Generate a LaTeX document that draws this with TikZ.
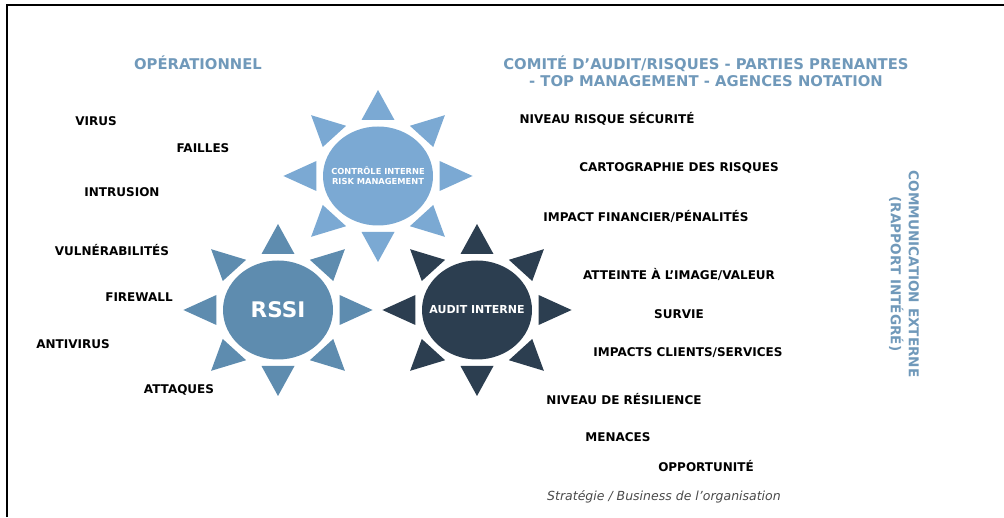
\documentclass[tikz,border=0pt]{standalone}
\usepackage{fontspec}
\setmainfont{DejaVu Sans}
\usetikzlibrary{shapes.geometric}

\definecolor{ctrlblue}{HTML}{7BA9D3}
\definecolor{rssiblue}{HTML}{5E8CAF}
\definecolor{auditblue}{HTML}{2C3E50}
\definecolor{headblue}{HTML}{7099BA}
\definecolor{notegray}{HTML}{4A4A4A}

\tikzset{
  sunball/.style={ellipse, minimum width=110pt, minimum height=99pt, inner sep=0pt},
  suntext/.style={text=white, align=center, inner sep=0pt},
  item/.style={font=\fontsize{12}{14}\selectfont\bfseries, text=black},
  head/.style={font=\fontsize{14.8}{17}\selectfont\bfseries, text=headblue, align=center},
}

\begin{document}
\begin{tikzpicture}[x=1pt,y=1pt]
	\useasboundingbox (0,0) rectangle (1004,517);

	% cadre
	\draw[line width=2pt] (7,0) -- (7,512) -- (1004,512);

	% les trois soleils
	\node[sunball, fill=ctrlblue] (ctrl) at (378,341) {};
	\node[sunball, fill=rssiblue] (rssi) at (278,207) {};
	\node[sunball, fill=auditblue] (audit) at (477,207) {};

	\foreach \s/\col in {ctrl/ctrlblue, rssi/rssiblue, audit/auditblue}
		\foreach \a in {0,45,...,315}
			\fill[\col, shift={(\s.center)}, xscale=1.1, rotate=\a] (56,-15) -- (86,0) -- (56,15) -- cycle;

	\node[suntext, font=\fontsize{8.3}{10}\selectfont\bfseries] (ctrltext) at (ctrl) {CONTRÔLE INTERNE\\RISK MANAGEMENT};
	\node[suntext, font=\fontsize{21.5}{24}\selectfont\bfseries] (rssitext) at (rssi) {RSSI};
	\node[suntext, font=\fontsize{11}{13}\selectfont\bfseries] (audittext) at (audit) {AUDIT INTERNE};

	% en-tetes
	\node[head] (oper) at (198,454) {OPÉRATIONNEL};
	\node[head] (comite) at (706,446) {COMITÉ D'AUDIT/RISQUES - PARTIES PRENANTES\\- TOP MANAGEMENT - AGENCES NOTATION};
	\node[head, font=\fontsize{13.6}{18}\selectfont\bfseries, rotate=-90] (comext) at (904,243) {COMMUNICATION EXTERNE\\(RAPPORT INTÉGRÉ)};

	% cote operationnel
	\node[item] (virus) at (96,396) {VIRUS};
	\node[item] (failles) at (203,369) {FAILLES};
	\node[item] (intrusion) at (122,325) {INTRUSION};
	\node[item] (vuln) at (112,267) {VULNÉRABILITÉS};
	\node[item] (firewall) at (139,220) {FIREWALL};
	\node[item] (antivirus) at (73,173) {ANTIVIRUS};
	\node[item] (attaques) at (179,127) {ATTAQUES};

	% cote gouvernance
	\node[item] (niveau) at (607,398) {NIVEAU RISQUE SÉCURITÉ};
	\node[item] (carto) at (679,349) {CARTOGRAPHIE DES RISQUES};
	\node[item] (impact) at (646,301) {IMPACT FINANCIER/PÉNALITÉS};
	\node[item] (image) at (679,243) {ATTEINTE À L'IMAGE/VALEUR};
	\node[item] (survie) at (679,203) {SURVIE};
	\node[item] (clients) at (688,164) {IMPACTS CLIENTS/SERVICES};
	\node[item] (resil) at (624,118) {NIVEAU DE RÉSILIENCE};
	\node[item] (menaces) at (618,80) {MENACES};
	\node[item] (opport) at (706,51) {OPPORTUNITÉ};

	\node[font=\fontsize{12.5}{14}\selectfont\itshape, text=notegray] (strat) at (664,20) {Stratégie / Business de l'organisation};
\end{tikzpicture}
\end{document}
